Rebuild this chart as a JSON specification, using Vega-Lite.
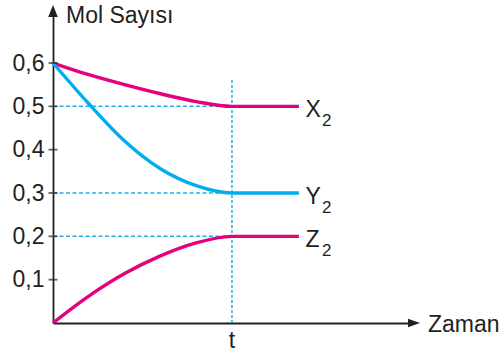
{
  "$schema": "https://vega.github.io/schema/vega-lite/v6.json",
  "width": 361,
  "height": 312,
  "autosize": {"type": "none"},
  "padding": {"left": 53, "top": 11, "right": 88, "bottom": 33},
  "background": "white",
  "config": {"view": {"stroke": null}},
  "datasets": {
    "curves": [
      {"series": "X2", "zaman": 0, "mol": 0.6},
      {"series": "X2", "zaman": 2, "mol": 0.573},
      {"series": "X2", "zaman": 4, "mol": 0.55},
      {"series": "X2", "zaman": 6, "mol": 0.529},
      {"series": "X2", "zaman": 8, "mol": 0.511},
      {"series": "X2", "zaman": 10, "mol": 0.5},
      {"series": "X2", "zaman": 13.74, "mol": 0.5},
      {"series": "Y2", "zaman": 0, "mol": 0.6},
      {"series": "Y2", "zaman": 2, "mol": 0.506},
      {"series": "Y2", "zaman": 4, "mol": 0.42},
      {"series": "Y2", "zaman": 6, "mol": 0.356},
      {"series": "Y2", "zaman": 8, "mol": 0.317},
      {"series": "Y2", "zaman": 10, "mol": 0.3},
      {"series": "Y2", "zaman": 13.74, "mol": 0.3},
      {"series": "Z2", "zaman": 0, "mol": 0.0},
      {"series": "Z2", "zaman": 2, "mol": 0.062},
      {"series": "Z2", "zaman": 4, "mol": 0.114},
      {"series": "Z2", "zaman": 6, "mol": 0.155},
      {"series": "Z2", "zaman": 8, "mol": 0.185},
      {"series": "Z2", "zaman": 10, "mol": 0.2},
      {"series": "Z2", "zaman": 13.74, "mol": 0.2}
    ],
    "levels": [
      {"level": 0.5, "start": 0, "t": 10},
      {"level": 0.3, "start": 0, "t": 10},
      {"level": 0.2, "start": 0, "t": 10}
    ],
    "ticks": [
      {"mol": 0.1}, {"mol": 0.2}, {"mol": 0.3}, {"mol": 0.4}, {"mol": 0.5}, {"mol": 0.6}
    ],
    "names": [
      {"letter": "X", "sub": "2", "zaman": 13.74, "mol": 0.5},
      {"letter": "Y", "sub": "2", "zaman": 13.74, "mol": 0.3},
      {"letter": "Z", "sub": "2", "zaman": 13.74, "mol": 0.2}
    ]
  },
  "layer": [
    {
      "data": {"name": "levels"},
      "mark": {"type": "rule", "color": "#1eaee8", "strokeWidth": 1.5, "strokeDash": [4, 2.5]},
      "encoding": {
        "y": {"field": "level", "type": "quantitative"},
        "x": {"field": "start", "type": "quantitative"},
        "x2": {"field": "t"}
      }
    },
    {
      "data": {"values": [{"t": 10, "bottom": 0, "top": 0.565}]},
      "mark": {"type": "rule", "color": "#1eaee8", "strokeWidth": 1.5, "strokeDash": [3, 2]},
      "encoding": {
        "x": {"field": "t", "type": "quantitative"},
        "y": {"field": "bottom", "type": "quantitative"},
        "y2": {"field": "top"}
      }
    },
    {
      "data": {"name": "curves"},
      "mark": {"type": "line", "interpolate": "monotone", "strokeWidth": 3.4, "strokeCap": "butt"},
      "encoding": {
        "x": {
          "field": "zaman",
          "type": "quantitative",
          "scale": {"domain": [0, 20.17], "nice": false, "zero": true},
          "axis": {
            "values": [],
            "ticks": false,
            "labels": false,
            "grid": false,
            "domainColor": "#231f20",
            "domainWidth": 1.8,
            "title": null
          }
        },
        "y": {
          "field": "mol",
          "type": "quantitative",
          "scale": {"domain": [0, 0.72], "nice": false, "zero": true},
          "axis": {
            "values": [0.1, 0.2, 0.3, 0.4, 0.5, 0.6],
            "labelExpr": "replace(format(datum.value, '.1f'), '.', ',')",
            "ticks": false,
            "grid": false,
            "domainColor": "#231f20",
            "domainWidth": 1.8,
            "labelFont": "Liberation Sans",
            "labelFontSize": 23,
            "labelColor": "#231f20",
            "labelPadding": 9,
            "title": null
          }
        },
        "color": {
          "field": "series",
          "type": "nominal",
          "scale": {"domain": ["X2", "Y2", "Z2"], "range": ["#e6007e", "#00aeef", "#e6007e"]},
          "legend": null
        }
      }
    },
    {
      "data": {"name": "ticks"},
      "mark": {"type": "tick", "orient": "horizontal", "color": "#231f20", "size": 9, "thickness": 1.8},
      "encoding": {
        "x": {"datum": 0},
        "y": {"field": "mol", "type": "quantitative"}
      }
    },
    {
      "data": {"values": [{"zaman": 0, "mol": 0.72}]},
      "mark": {"type": "point", "shape": "M0,-1L0.8,1L-0.8,1Z", "size": 144, "filled": true, "color": "#231f20", "opacity": 1},
      "encoding": {
        "x": {"field": "zaman", "type": "quantitative"},
        "y": {"field": "mol", "type": "quantitative"}
      }
    },
    {
      "data": {"values": [{"zaman": 20.17, "mol": 0}]},
      "mark": {"type": "point", "shape": "M1,0L-1,0.7L-1,-0.7Z", "size": 144, "filled": true, "color": "#231f20", "opacity": 1},
      "encoding": {
        "x": {"field": "zaman", "type": "quantitative"},
        "y": {"field": "mol", "type": "quantitative"}
      }
    },
    {
      "data": {"values": [{"zaman": 0, "mol": 0.72, "label": "Mol Sayısı"}]},
      "mark": {"type": "text", "align": "left", "baseline": "alphabetic", "dx": 13, "dy": 12, "font": "Liberation Sans", "fontSize": 23, "color": "#231f20"},
      "encoding": {
        "x": {"field": "zaman", "type": "quantitative"},
        "y": {"field": "mol", "type": "quantitative"},
        "text": {"field": "label"}
      }
    },
    {
      "data": {"values": [{"zaman": 20.17, "mol": 0, "label": "Zaman"}]},
      "mark": {"type": "text", "align": "left", "baseline": "alphabetic", "dx": 14, "dy": 9, "font": "Liberation Sans", "fontSize": 23, "color": "#231f20"},
      "encoding": {
        "x": {"field": "zaman", "type": "quantitative"},
        "y": {"field": "mol", "type": "quantitative"},
        "text": {"field": "label"}
      }
    },
    {
      "data": {"values": [{"zaman": 10, "mol": 0, "label": "t"}]},
      "mark": {"type": "text", "align": "center", "baseline": "alphabetic", "dy": 25, "font": "Liberation Sans", "fontSize": 23, "color": "#231f20"},
      "encoding": {
        "x": {"field": "zaman", "type": "quantitative"},
        "y": {"field": "mol", "type": "quantitative"},
        "text": {"field": "label"}
      }
    },
    {
      "data": {"name": "names"},
      "mark": {"type": "text", "align": "left", "baseline": "alphabetic", "dx": 6.5, "dy": 11, "font": "Liberation Sans", "fontSize": 23, "color": "#231f20"},
      "encoding": {
        "x": {"field": "zaman", "type": "quantitative"},
        "y": {"field": "mol", "type": "quantitative"},
        "text": {"field": "letter"}
      }
    },
    {
      "data": {"name": "names"},
      "mark": {"type": "text", "align": "left", "baseline": "alphabetic", "dx": 23, "dy": 19.5, "font": "Liberation Sans", "fontSize": 17, "color": "#231f20"},
      "encoding": {
        "x": {"field": "zaman", "type": "quantitative"},
        "y": {"field": "mol", "type": "quantitative"},
        "text": {"field": "sub"}
      }
    }
  ]
}
